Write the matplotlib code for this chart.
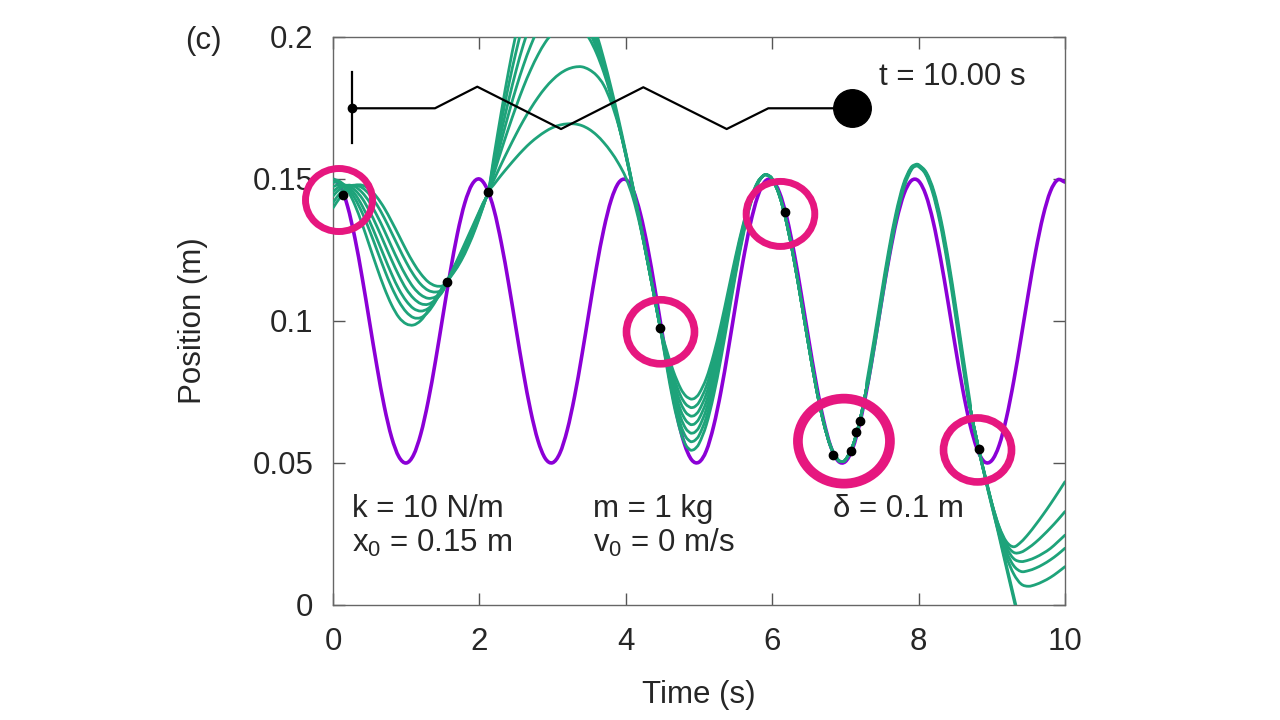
import matplotlib
matplotlib.use('Agg')
import matplotlib.pyplot as plt
from matplotlib.patches import Ellipse, PathPatch
from matplotlib.path import Path

plt.rcParams['font.family'] = ['Liberation Sans', 'DejaVu Sans']
plt.rcParams['mathtext.fontset'] = 'custom'
plt.rcParams['mathtext.rm'] = 'Liberation Sans'
plt.rcParams['mathtext.it'] = 'Liberation Sans:italic'

# purple: reference trajectory, read every 0.1 s
true_t = [round(0.1 * i, 1) for i in range(101)]
true_x = [0.1500, 0.1475, 0.1403, 0.1291, 0.1151, 0.0995, 0.0840, 0.0700, 0.0591, 0.0522,
          0.0500, 0.0528, 0.0603, 0.0717, 0.0859, 0.1016, 0.1170, 0.1308, 0.1415, 0.1481,
          0.1500, 0.1468, 0.1391, 0.1274, 0.1131, 0.0974, 0.0820, 0.0684, 0.0579, 0.0516,
          0.0501, 0.0535, 0.0616, 0.0734, 0.0879, 0.1036, 0.1190, 0.1324, 0.1426, 0.1486,
          0.1498, 0.1461, 0.1377, 0.1257, 0.1110, 0.0953, 0.0801, 0.0668, 0.0568, 0.0511,
          0.0503, 0.0543, 0.0630, 0.0752, 0.0900, 0.1057, 0.1209, 0.1340, 0.1437, 0.1491,
          0.1496, 0.1452, 0.1364, 0.1239, 0.1090, 0.0933, 0.0782, 0.0653, 0.0558, 0.0507,
          0.0505, 0.0552, 0.0644, 0.0770, 0.0920, 0.1078, 0.1227, 0.1355, 0.1447, 0.1494,
          0.1493, 0.1443, 0.1349, 0.1220, 0.1070, 0.0912, 0.0763, 0.0638, 0.0549, 0.0504,
          0.0509, 0.0562, 0.0659, 0.0789, 0.0941, 0.1098, 0.1246, 0.1369, 0.1456, 0.1497, 0.1489]

# green ensemble (7 members), split at the observation times
seg_a_t = [0.0, 0.1, 0.2, 0.3, 0.4, 0.5, 0.6, 0.7, 0.8, 0.9, 1.0, 1.1, 1.2, 1.3, 1.4, 1.5, 1.553]
seg_a_x = [
    [0.1500, 0.1490, 0.1460, 0.1408, 0.1340, 0.1264, 0.1188, 0.1117, 0.1057, 0.1013, 0.0990, 0.0986, 0.1002, 0.1036, 0.1079, 0.1120, 0.1138],
    [0.1488, 0.1488, 0.1468, 0.1431, 0.1380, 0.1318, 0.1250, 0.1182, 0.1120, 0.1069, 0.1032, 0.1012, 0.1012, 0.1032, 0.1069, 0.1120, 0.1138],
    [0.1473, 0.1482, 0.1473, 0.1447, 0.1405, 0.1351, 0.1290, 0.1227, 0.1166, 0.1112, 0.1071, 0.1044, 0.1035, 0.1044, 0.1071, 0.1112, 0.1138],
    [0.1456, 0.1475, 0.1477, 0.1461, 0.1431, 0.1386, 0.1333, 0.1274, 0.1215, 0.1160, 0.1113, 0.1080, 0.1061, 0.1059, 0.1075, 0.1105, 0.1138],
    [0.1440, 0.1466, 0.1478, 0.1473, 0.1452, 0.1418, 0.1372, 0.1319, 0.1262, 0.1207, 0.1158, 0.1118, 0.1092, 0.1080, 0.1085, 0.1106, 0.1138],
    [0.1417, 0.1451, 0.1472, 0.1478, 0.1469, 0.1445, 0.1409, 0.1363, 0.1311, 0.1258, 0.1207, 0.1163, 0.1129, 0.1108, 0.1102, 0.1111, 0.1138],
    [0.1398, 0.1436, 0.1464, 0.1478, 0.1478, 0.1464, 0.1436, 0.1398, 0.1351, 0.1301, 0.1250, 0.1204, 0.1166, 0.1138, 0.1124, 0.1124, 0.1138],
]

seg_b_t = [1.553, 1.65, 1.75, 1.85, 1.95, 2.05, 2.12]
seg_b_x = [
    [0.1138, 0.1189, 0.1244, 0.1301, 0.1358, 0.1415, 0.1454],
    [0.1138, 0.1186, 0.1239, 0.1295, 0.1353, 0.1413, 0.1454],
    [0.1138, 0.1183, 0.1233, 0.1289, 0.1348, 0.1410, 0.1454],
    [0.1138, 0.1180, 0.1228, 0.1283, 0.1343, 0.1408, 0.1454],
    [0.1138, 0.1177, 0.1223, 0.1277, 0.1338, 0.1406, 0.1454],
    [0.1138, 0.1174, 0.1217, 0.1271, 0.1333, 0.1403, 0.1454],
    [0.1138, 0.1171, 0.1212, 0.1265, 0.1328, 0.1401, 0.1454],
]

seg_c_t = [2.12, 2.2, 2.3, 2.4, 2.5, 2.6, 2.7, 2.8, 2.9, 3.0, 3.1, 3.2, 3.3,
           3.4, 3.5, 3.6, 3.7, 3.8, 3.9, 4.0, 4.1, 4.2, 4.3, 4.4, 4.47]
seg_c_x = [
    [0.1454, 0.1582, 0.1737, 0.1882, 0.2011, 0.2121, 0.2207, 0.2266, 0.2296, 0.2298, 0.2284, 0.2256, 0.2214,
     0.2159, 0.2092, 0.2012, 0.1922, 0.1821, 0.1712, 0.1594, 0.1470, 0.1341, 0.1208, 0.1073, 0.0977],
    [0.1454, 0.1566, 0.1702, 0.1831, 0.1947, 0.2048, 0.2130, 0.2191, 0.2228, 0.2240, 0.2233, 0.2211, 0.2176,
     0.2126, 0.2064, 0.1989, 0.1903, 0.1806, 0.1700, 0.1585, 0.1463, 0.1336, 0.1205, 0.1071, 0.0977],
    [0.1454, 0.1550, 0.1667, 0.1778, 0.1881, 0.1972, 0.2048, 0.2109, 0.2152, 0.2175, 0.2179, 0.2167, 0.2140,
     0.2098, 0.2043, 0.1973, 0.1892, 0.1798, 0.1695, 0.1583, 0.1463, 0.1336, 0.1205, 0.1071, 0.0977],
    [0.1454, 0.1535, 0.1635, 0.1730, 0.1819, 0.1899, 0.1969, 0.2027, 0.2072, 0.2103, 0.2118, 0.2118, 0.2102,
     0.2070, 0.2022, 0.1960, 0.1884, 0.1795, 0.1694, 0.1584, 0.1465, 0.1339, 0.1207, 0.1072, 0.0977],
    [0.1454, 0.1520, 0.1602, 0.1680, 0.1754, 0.1823, 0.1884, 0.1937, 0.1981, 0.2014, 0.2037, 0.2049, 0.2048,
     0.2030, 0.1995, 0.1943, 0.1875, 0.1792, 0.1696, 0.1588, 0.1469, 0.1342, 0.1210, 0.1074, 0.0977],
    [0.1454, 0.1498, 0.1553, 0.1606, 0.1657, 0.1705, 0.1748, 0.1787, 0.1821, 0.1849, 0.1871, 0.1886, 0.1894,
     0.1895, 0.1885, 0.1865, 0.1830, 0.1770, 0.1690, 0.1590, 0.1465, 0.1338, 0.1207, 0.1072, 0.0977],
    [0.1454, 0.1481, 0.1514, 0.1545, 0.1575, 0.1603, 0.1628, 0.1649, 0.1667, 0.1681, 0.1690, 0.1694, 0.1694,
     0.1688, 0.1675, 0.1655, 0.1628, 0.1595, 0.1555, 0.1505, 0.1432, 0.1330, 0.1205, 0.1071, 0.0977],
]

seg_d_t = [4.47, 4.55, 4.65, 4.75, 4.82, 4.88, 4.9, 4.94, 5.0, 5.1,
           5.2, 5.3, 5.4, 5.5, 5.6, 5.7, 5.8, 5.87, 5.92]
seg_d_x = [
    [0.0977, 0.0853, 0.0713, 0.0608, 0.0563, 0.0546, 0.0545, 0.0549, 0.0568, 0.0634, 0.0738, 0.0868, 0.1015, 0.1163, 0.1297, 0.1408, 0.1482, 0.1509, 0.1515],
    [0.0977, 0.0861, 0.0731, 0.0634, 0.0592, 0.0576, 0.0575, 0.0579, 0.0597, 0.0661, 0.0762, 0.0888, 0.1031, 0.1174, 0.1304, 0.1411, 0.1483, 0.1510, 0.1515],
    [0.0977, 0.0870, 0.0750, 0.0660, 0.0621, 0.0606, 0.0605, 0.0608, 0.0626, 0.0689, 0.0786, 0.0908, 0.1046, 0.1185, 0.1310, 0.1414, 0.1484, 0.1510, 0.1515],
    [0.0977, 0.0879, 0.0768, 0.0685, 0.0650, 0.0636, 0.0635, 0.0638, 0.0656, 0.0716, 0.0810, 0.0928, 0.1061, 0.1196, 0.1317, 0.1418, 0.1485, 0.1510, 0.1515],
    [0.0977, 0.0887, 0.0786, 0.0711, 0.0678, 0.0666, 0.0665, 0.0668, 0.0685, 0.0743, 0.0834, 0.0948, 0.1077, 0.1206, 0.1324, 0.1421, 0.1486, 0.1510, 0.1515],
    [0.0977, 0.0896, 0.0805, 0.0736, 0.0707, 0.0696, 0.0695, 0.0698, 0.0714, 0.0770, 0.0858, 0.0968, 0.1092, 0.1217, 0.1331, 0.1424, 0.1487, 0.1510, 0.1515],
    [0.0977, 0.0904, 0.0823, 0.0762, 0.0736, 0.0726, 0.0725, 0.0728, 0.0744, 0.0798, 0.0882, 0.0988, 0.1108, 0.1228, 0.1337, 0.1428, 0.1489, 0.1510, 0.1515],
]

# all members collapse onto one path between 5.92 s and 8.82 s
trunk_t = [5.92, 6.0, 6.1, 6.2, 6.3, 6.4, 6.5, 6.6, 6.7, 6.8, 6.9, 6.95, 7.0, 7.1, 7.2, 7.3, 7.4,
           7.5, 7.6, 7.7, 7.8, 7.9, 7.97, 8.0, 8.1, 8.2, 8.3, 8.4, 8.5, 8.6, 8.7, 8.8, 8.82]
trunk_x = [0.1515, 0.1500, 0.1441, 0.1342, 0.1212, 0.1064, 0.0911, 0.0766, 0.0645, 0.0557, 0.0511, 0.0505,
           0.0511, 0.0560, 0.0652, 0.0780, 0.0931, 0.1091, 0.1245, 0.1378, 0.1479, 0.1537, 0.1549, 0.1547,
           0.1520, 0.1455, 0.1350, 0.1210, 0.1045, 0.0870, 0.0700, 0.0575, 0.0549]

seg_g_t = [8.82, 8.9, 9.0, 9.1, 9.2, 9.3, 9.4, 9.5, 9.6, 9.7, 9.8, 9.9, 10.0]
seg_g_x = [
    [0.0549, 0.0461, 0.0352, 0.0241, 0.0130, 0.0020, -0.0090, -0.0195, -0.0290, -0.0370, -0.0430, -0.0470, -0.0490],
    [0.0549, 0.0465, 0.0358, 0.0249, 0.0140, 0.0031, -0.0078, -0.0180, -0.0270, -0.0350, -0.0410, -0.0450, -0.0470],
    [0.0549, 0.0460, 0.0358, 0.0276, 0.0223, 0.0205, 0.0222, 0.0250, 0.0283, 0.0318, 0.0355, 0.0394, 0.0434],
    [0.0549, 0.0461, 0.0359, 0.0274, 0.0214, 0.0185, 0.0186, 0.0201, 0.0221, 0.0245, 0.0271, 0.0299, 0.0329],
    [0.0549, 0.0461, 0.0357, 0.0269, 0.0202, 0.0163, 0.0153, 0.0158, 0.0168, 0.0182, 0.0199, 0.0222, 0.0246],
    [0.0549, 0.0459, 0.0353, 0.0260, 0.0187, 0.0138, 0.0118, 0.0121, 0.0130, 0.0143, 0.0159, 0.0178, 0.0200],
    [0.0549, 0.0457, 0.0348, 0.0250, 0.0169, 0.0109, 0.0074, 0.0066, 0.0072, 0.0083, 0.0097, 0.0115, 0.0135],
]

# observations (black dots)
obs_t = [0.14, 1.553, 2.12, 4.47, 6.17, 6.83, 7.08, 7.14, 7.20, 8.82]
obs_x = [0.1444, 0.1138, 0.1454, 0.0977, 0.1383, 0.0528, 0.0543, 0.0610, 0.0649, 0.0549]

# spring sketch at the top
spring_t = [0.264, 1.393, 1.971, 3.115, 4.239, 5.378, 5.947, 7.086]
spring_x = [0.1749, 0.1749, 0.1825, 0.1676, 0.1823, 0.1676, 0.1749, 0.1749]
wall_t = [0.264, 0.264]
wall_x = [0.1626, 0.1878]

# highlight rings (centre in data units, radii in pixels)
ring_t = [0.082, 4.474, 6.113, 6.98, 8.805]
ring_x = [0.1426, 0.0962, 0.1377, 0.0577, 0.0546]
ring_rx = [33.5, 34.0, 34.3, 46.0, 34.0]
ring_ry = [31.5, 32.0, 32.5, 42.5, 32.0]
ring_lw = [5.0, 5.5, 5.0, 7.0, 5.5]

xticks = [0, 2, 4, 6, 8, 10]
yticks = [0, 0.05, 0.1, 0.15, 0.2]
ytick_labels = ['0', '0.05', '0.1', '0.15', '0.2']

purple = '#8b00d6'
green = '#1ea37a'
magenta = '#e6177f'
txt = '#262626'


def smooth_line(ax, t, x, **kw):
    # cubic Hermite path through the read points (drawn as Bezier segments)
    n = len(t)
    slopes = []
    for i in range(n):
        if i == 0:
            m = (x[1] - x[0]) / (t[1] - t[0])
        elif i == n - 1:
            m = (x[-1] - x[-2]) / (t[-1] - t[-2])
        else:
            m = (x[i + 1] - x[i - 1]) / (t[i + 1] - t[i - 1])
        slopes.append(m)
    verts = [(t[0], x[0])]
    codes = [Path.MOVETO]
    for i in range(n - 1):
        dt = t[i + 1] - t[i]
        verts += [(t[i] + dt / 3, x[i] + slopes[i] * dt / 3),
                  (t[i + 1] - dt / 3, x[i + 1] - slopes[i + 1] * dt / 3),
                  (t[i + 1], x[i + 1])]
        codes += [Path.CURVE4] * 3
    ax.add_patch(PathPatch(Path(verts, codes), fill=False, capstyle='round',
                           joinstyle='round', **kw))


fig = plt.figure(figsize=(12.8, 7.2), dpi=100)
ax_px = [333, 115, 732, 568]
ax = fig.add_axes([ax_px[0] / 1280, ax_px[1] / 720, ax_px[2] / 1280, ax_px[3] / 720])
ax.set_xlim(0, 10)
ax.set_ylim(0, 0.2)

smooth_line(ax, true_t, true_x, ec=purple, lw=2.6, zorder=2)

for j in range(7):
    t = seg_a_t + seg_b_t[1:] + seg_c_t[1:] + seg_d_t[1:] + trunk_t[1:] + seg_g_t[1:]
    x = seg_a_x[j] + seg_b_x[j][1:] + seg_c_x[j][1:] + seg_d_x[j][1:] + trunk_x[1:] + seg_g_x[j][1:]
    smooth_line(ax, t, x, ec=green, lw=2.0, zorder=3)

# the merged members look a bit thicker around the 8 s peak
smooth_line(ax, trunk_t[15:31], trunk_x[15:31], ec=green, lw=3.2, zorder=3)

# spring + wall + mass
ax.plot(spring_t, spring_x, color='black', lw=1.6, zorder=4)
ax.plot(wall_t, wall_x, color='black', lw=1.6, zorder=4)
ax.plot(spring_t[0], spring_x[0], 'o', color='black', ms=6, zorder=4)
ax.plot(spring_t[-1], spring_x[-1], 'o', color='black', ms=27, zorder=4)

ax.plot(obs_t, obs_x, 'o', color='black', ms=6, zorder=5, ls='none')

px_t = ax_px[2] / 10.0
px_x = ax_px[3] / 0.2
for t0, x0, rx, ry, lw in zip(ring_t, ring_x, ring_rx, ring_ry, ring_lw):
    ax.add_patch(Ellipse((t0, x0), 2 * rx / px_t, 2 * ry / px_x, fill=False,
                         ec=magenta, lw=lw, zorder=6, clip_on=False))

ax.set_xticks(xticks)
ax.set_xticklabels([str(v) for v in xticks])
ax.set_yticks(yticks)
ax.set_yticklabels(ytick_labels)
ax.tick_params(direction='in', length=8.5, width=1.0, color='#555555', labelcolor=txt,
               labelsize=22.5, top=True, right=True)
ax.tick_params(axis='x', pad=16)
ax.tick_params(axis='y', pad=14)
for s in ax.spines.values():
    s.set_color('#666666')
    s.set_linewidth(1.0)

fs = 22.5
ax.text(0.26, 0.031, 'k = 10 N/m', fontsize=fs, color=txt, va='baseline', ha='left')
ax.text(0.26, 0.0187, 'x$_\\mathregular{0}$ = 0.15 m', fontsize=fs, color=txt, va='baseline', ha='left')
ax.text(3.547, 0.031, 'm = 1 kg', fontsize=fs, color=txt, va='baseline', ha='left')
ax.text(3.547, 0.0187, 'v$_\\mathregular{0}$ = 0 m/s', fontsize=fs, color=txt, va='baseline', ha='left')
ax.text(6.826, 0.031, 'δ = 0.1 m', fontsize=fs, color=txt, va='baseline', ha='left')
ax.text(7.463, 0.1831, 't = 10.00 s', fontsize=fs, color=txt, va='baseline', ha='left')

fig.text(699 / 1280, 1 - 695 / 720, 'Time (s)', fontsize=fs, color=txt, ha='center', va='center')
fig.text(193 / 1280, 1 - 321 / 720, 'Position (m)', fontsize=fs, color=txt, ha='center', va='center',
         rotation=90)
fig.text(203 / 1280, 1 - 41 / 720, '(c)', fontsize=fs, color=txt, ha='center', va='center')

fig.savefig('out.png', dpi=100)
